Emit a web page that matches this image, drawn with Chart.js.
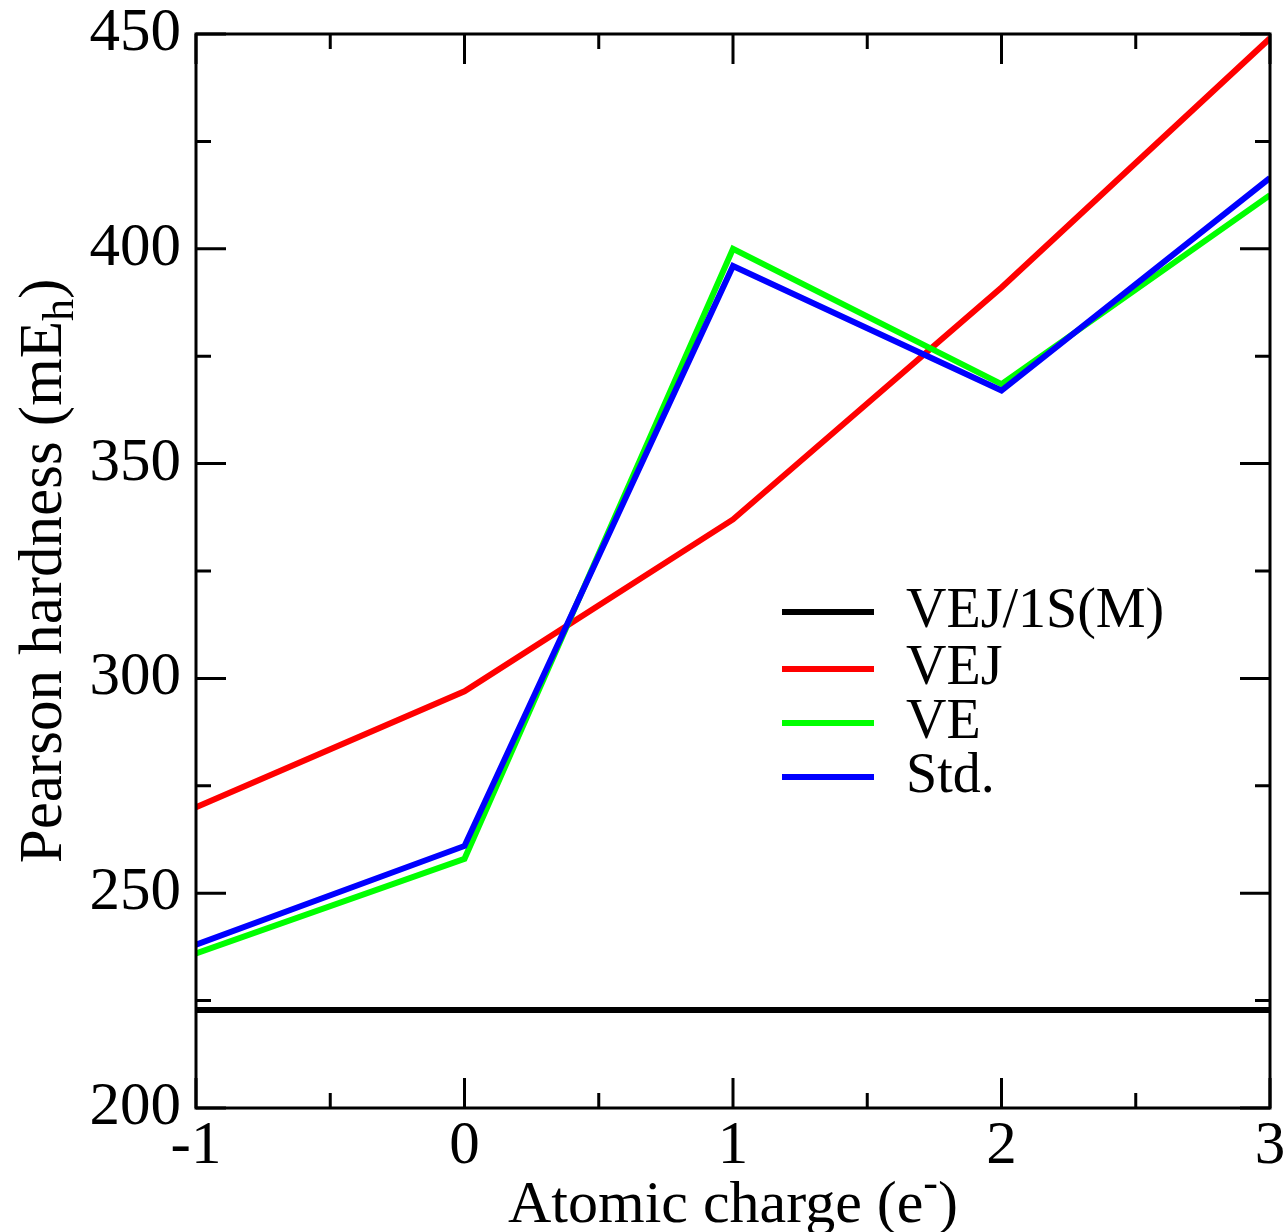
<!DOCTYPE html>
<html>
<head>
<meta charset="utf-8">
<script src="https://cdn.jsdelivr.net/npm/chart.js@4.4.1/dist/chart.umd.min.js"></script>
<style>
  body { margin: 0; background: #fff; }
  #wrap { width: 1288px; height: 1232px; }
</style>
</head>
<body>
<div id="wrap"><canvas id="chart"></canvas></div>
<script>
// values
const charges = [-1, 0, 1, 2, 3];
const vej1sM = [222.8, 222.8, 222.8, 222.8, 222.8];
const vej = [270, 297, 337, 391, 449];
const ve = [236, 258, 400, 368.5, 412.5];
const std = [238, 261, 396, 367, 416.5];

const yTicks = [200, 250, 300, 350, 400, 450];
const seriesNames = ['VEJ/1S(M)', 'VEJ', 'VE', 'Std.'];
const seriesColors = ['#000000', '#ff0000', '#00ff00', '#0000ff'];

const FONT = '"Liberation Serif", "Times New Roman", serif';

function pts(vals) {
    return charges.map((x, i) => ({ x: x, y: vals[i] }));
}

// draws text pieces (for sub/superscripts) centred on x
function drawRich(ctx, parts, x, y) {
    let total = 0;
    parts.forEach(p => {
        ctx.font = p.size + 'px ' + FONT;
        p.w = ctx.measureText(p.t).width;
        total += p.w;
    });
    let cx = x - total / 2;
    ctx.textAlign = 'left';
    ctx.textBaseline = 'alphabetic';
    parts.forEach(p => {
        ctx.font = p.size + 'px ' + FONT;
        ctx.fillText(p.t, cx, y + (p.dy || 0));
        cx += p.w;
    });
}

const framePlugin = {
    id: 'frame',
    afterDraw(chart) {
        const ctx = chart.ctx;
        const a = chart.chartArea;
        const xs = chart.scales.x;
        const ys = chart.scales.y;
        ctx.save();
        ctx.strokeStyle = '#000';
        ctx.fillStyle = '#000';

        // ticks pointing inward on all four sides
        ctx.lineWidth = 3;
        ctx.beginPath();
        for (let v = -1; v <= 3.001; v += 0.5) {
            const px = xs.getPixelForValue(v);
            const len = Number.isInteger(v) ? 30 : 15;
            ctx.moveTo(px, a.bottom); ctx.lineTo(px, a.bottom - len);
            ctx.moveTo(px, a.top); ctx.lineTo(px, a.top + len);
        }
        for (let v = 200; v <= 450; v += 25) {
            const py = ys.getPixelForValue(v);
            const len = v % 50 === 0 ? 30 : 15;
            ctx.moveTo(a.left, py); ctx.lineTo(a.left + len, py);
            ctx.moveTo(a.right, py); ctx.lineTo(a.right - len, py);
        }
        ctx.stroke();
        ctx.strokeRect(a.left, a.top, a.right - a.left, a.bottom - a.top);

        // axis titles
        drawRich(ctx, [
            { t: 'Atomic charge (e', size: 60 },
            { t: '-', size: 44, dy: -25 },
            { t: ')', size: 60 }
        ], (a.left + a.right) / 2, 1222);

        ctx.save();
        ctx.translate(61, (a.top + a.bottom) / 2);
        ctx.rotate(-Math.PI / 2);
        drawRich(ctx, [
            { t: 'Pearson hardness (mE', size: 61 },
            { t: 'h', size: 44, dy: 12 },
            { t: ')', size: 61 }
        ], 0, 0);
        ctx.restore();

        // legend
        const rows = [612, 669, 723, 777];
        chart.data.datasets.forEach((ds, i) => {
            const y = rows[i];
            ctx.strokeStyle = ds.borderColor;
            ctx.lineWidth = 6;
            ctx.beginPath();
            ctx.moveTo(782, y);
            ctx.lineTo(874, y);
            ctx.stroke();
            ctx.fillStyle = '#000';
            ctx.font = '56px ' + FONT;
            ctx.textAlign = 'left';
            ctx.textBaseline = 'alphabetic';
            ctx.fillText(ds.label, 906, y + 15);
        });
        ctx.restore();
    }
};

const seriesData = [vej1sM, vej, ve, std];

new Chart(document.getElementById('chart'), {
    type: 'line',
    data: {
        datasets: seriesData.map((vals, i) => ({
            label: seriesNames[i],
            data: pts(vals),
            borderColor: seriesColors[i],
            borderWidth: 6,
            pointRadius: 0,
            tension: 0,
            fill: false,
            order: 4 - i
        }))
    },
    options: {
        responsive: true,
        maintainAspectRatio: false,
        animation: false,
        layout: { padding: { top: 34, right: 18, left: 0, bottom: 0 } },
        plugins: {
            legend: { display: false },
            tooltip: { enabled: false }
        },
        scales: {
            x: {
                type: 'linear',
                min: -1,
                max: 3,
                grid: { display: false },
                border: { display: false },
                ticks: {
                    stepSize: 1,
                    color: '#000',
                    padding: -6,
                    maxRotation: 0,
                    font: { family: FONT, size: 61 }
                },
                afterFit(scale) {
                    scale.height = 124;
                    scale.paddingLeft = 0;
                    scale.paddingRight = 0;
                }
            },
            y: {
                min: 200,
                max: 450,
                grid: { display: false },
                border: { display: false },
                afterBuildTicks(scale) {
                    scale.ticks = yTicks.map(v => ({ value: v }));
                },
                ticks: {
                    color: '#000',
                    padding: 7,
                    font: { family: FONT, size: 61 }
                },
                afterFit(scale) {
                    scale.width = 196;
                    scale.paddingTop = 0;
                    scale.paddingBottom = 0;
                }
            }
        }
    },
    plugins: [framePlugin]
});
</script>
</body>
</html>
